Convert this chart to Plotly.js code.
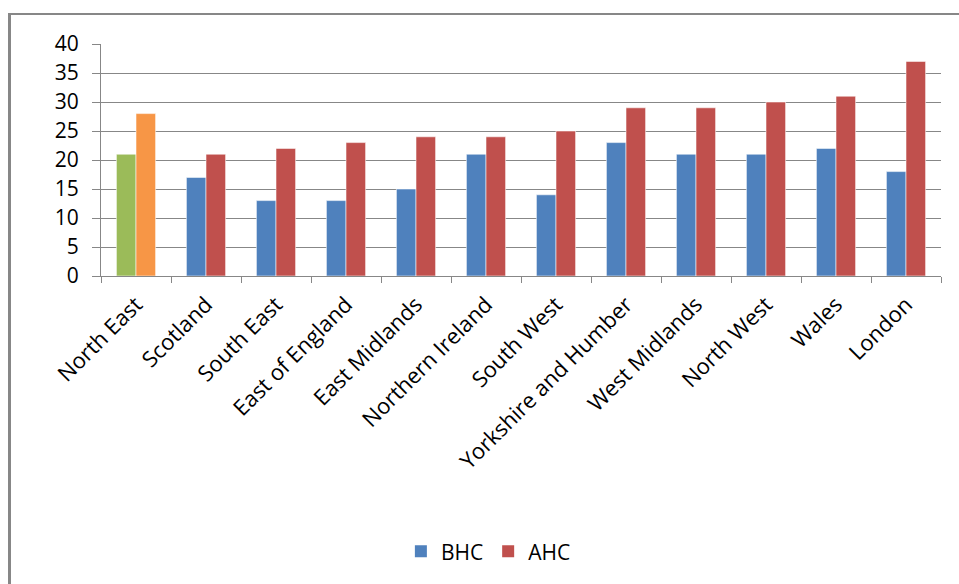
<!DOCTYPE html>
<html>
<head>
<meta charset="utf-8">
<script src="https://cdn.plot.ly/plotly-3.0.1.min.js"></script>
<style>
  html, body { margin: 0; padding: 0; background: #ffffff; overflow: hidden; }
  #chart { position: absolute; left: 0; top: 0; width: 959px; height: 584px; }
  #frame {
    position: absolute; left: 8px; top: 13px; width: 960px; height: 600px;
    border-left: 3px solid #878787; border-top: 2px solid #878787;
    pointer-events: none;
  }
</style>
</head>
<body>
<div id="chart"></div>
<div id="frame"></div>
<script>
// Regions, ordered by AHC rate
const regions = ['North East', 'Scotland', 'South East', 'East of England', 'East Midlands',
  'Northern Ireland', 'South West', 'Yorkshire and Humber', 'West Midlands', 'North West',
  'Wales', 'London'];
const bhc = [21, 17, 13, 13, 15, 21, 14, 23, 21, 21, 22, 18];
const ahc = [28, 21, 22, 23, 24, 24, 25, 29, 29, 30, 31, 37];
const yTicks = [0, 5, 10, 15, 20, 25, 30, 35, 40];

const highlight = 'North East';
const bhcColor = '#4F81BD', ahcColor = '#C0504D';
const bhcHighlight = '#9BBB59', ahcHighlight = '#F79646';

const bhcColors = regions.map(r => r === highlight ? bhcHighlight : bhcColor);
const ahcColors = regions.map(r => r === highlight ? ahcHighlight : ahcColor);

const font = 'Open Sans, Liberation Sans, sans-serif';
const edge = { color: 'rgba(255,255,255,0.55)', width: 1 };

const traces = [
  { type: 'bar', name: 'BHC', x: regions, y: bhc, marker: { color: bhcColors, line: edge },
    offsetgroup: 'bhc', showlegend: false, legendgroup: 'BHC', hoverinfo: 'x+y+name' },
  { type: 'bar', name: 'AHC', x: regions, y: ahc, marker: { color: ahcColors, line: edge },
    offsetgroup: 'ahc', showlegend: false, legendgroup: 'AHC', hoverinfo: 'x+y+name' },
  // legend keys in the series colours (share the slots of the real series)
  { type: 'bar', name: 'BHC', x: [null], y: [null], marker: { color: bhcColor },
    offsetgroup: 'bhc', legendgroup: 'BHC' },
  { type: 'bar', name: 'AHC', x: [null], y: [null], marker: { color: ahcColor },
    offsetgroup: 'ahc', legendgroup: 'AHC' }
];

const layout = {
  width: 959, height: 584,
  margin: { l: 101, r: 18, t: 44, b: 308 },
  paper_bgcolor: '#ffffff', plot_bgcolor: '#ffffff',
  font: { family: font, color: '#000000', size: 21 },
  barmode: 'group', bargap: 0.44, bargroupgap: 0,
  showlegend: true,
  legend: {
    orientation: 'h', x: 0.357, xanchor: 'left', y: -1.1, yanchor: 'top',
    font: { family: font, size: 21, color: '#000000' },
    itemwidth: 30, traceorder: 'normal'
  },
  xaxis: {
    type: 'category', categoryorder: 'array', categoryarray: regions,
    tickangle: -45, tickson: 'boundaries', ticks: 'outside', ticklen: 6,
    tickcolor: '#878787', tickwidth: 1,
    showline: true, linecolor: '#878787', linewidth: 1,
    showgrid: false, zeroline: false,
    ticklabelstandoff: 6,
    tickfont: { family: font, size: 22, color: '#000000' }
  },
  yaxis: {
    range: [0, 40], tickmode: 'array', tickvals: yTicks, ticktext: yTicks.map(String),
    ticks: 'outside', ticklen: 8, tickcolor: '#878787', tickwidth: 1,
    showline: true, linecolor: '#878787', linewidth: 1,
    showgrid: true, gridcolor: '#878787', gridwidth: 1, zeroline: false,
    ticklabelstandoff: 9,
    tickfont: { family: font, size: 21, color: '#000000' }
  }
};

Plotly.newPlot('chart', traces, layout, { staticPlot: true, displayModeBar: false });
</script>
</body>
</html>
